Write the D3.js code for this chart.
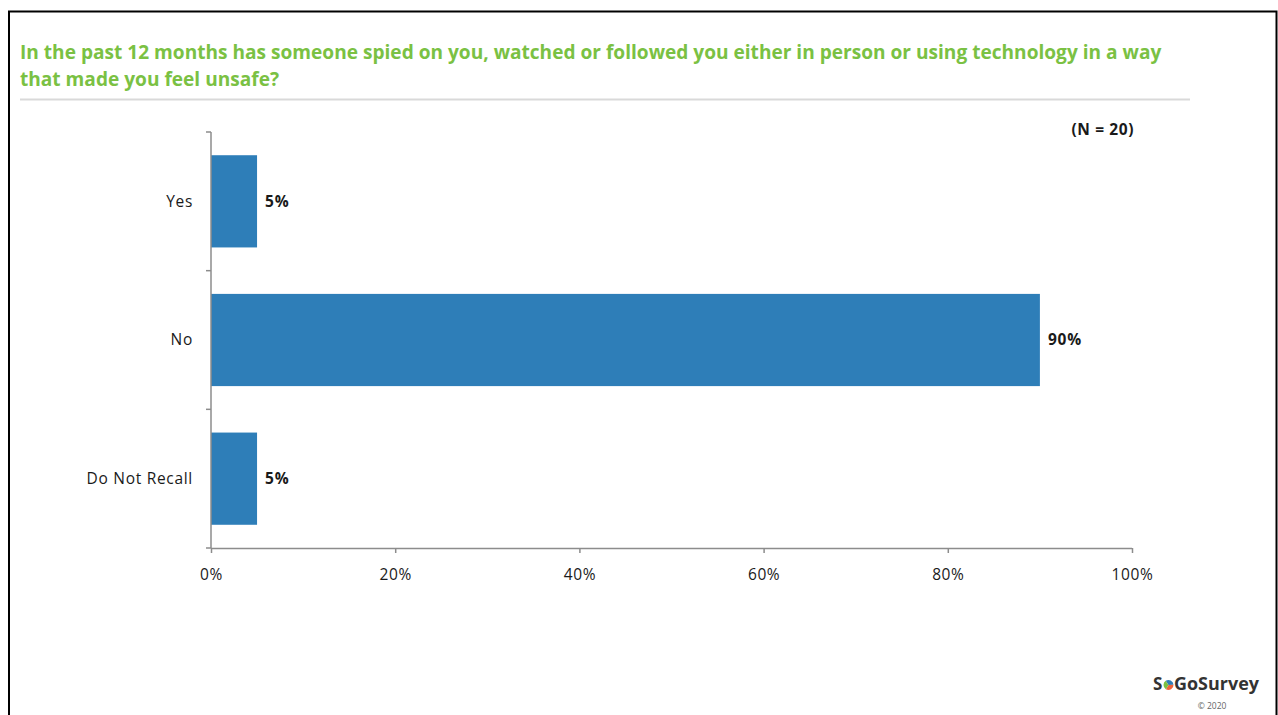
<!DOCTYPE html>
<html>
<head>
<meta charset="utf-8">
<script src="https://cdn.jsdelivr.net/npm/d3@7"></script>
<style>
  html, body { margin: 0; padding: 0; background: #fff; }
  svg { display: block; }
  text { font-family: "Open Sans", Lato, sans-serif; }
</style>
</head>
<body>
<svg id="chart" width="1278" height="715"></svg>
<script>
// Survey responses
const categories = ["Yes", "No", "Do Not Recall"];
const shares = [5, 90, 5];
const xTicks = [0, 20, 40, 60, 80, 100];
const titleLines = [
  "In the past 12 months has someone spied on you, watched or followed you either in person or using technology in a way",
  "that made you feel unsafe?"
];
const sampleNote = "(N = 20)";

const svg = d3.select("#chart");

// slide frame
svg.append("rect")
  .attr("x", 9).attr("y", 11.5)
  .attr("width", 1267.5).attr("height", 720)
  .attr("fill", "none").attr("stroke", "#000").attr("stroke-width", 2);

// title
svg.append("g").selectAll("text")
  .data(titleLines).join("text")
  .attr("x", 20)
  .attr("y", (d, i) => 59 + i * 27)
  .attr("fill", "#7AC143")
  .attr("font-size", 19.1)
  .attr("font-weight", "bold")
  .text(d => d);

svg.append("line")
  .attr("x1", 20).attr("x2", 1190)
  .attr("y1", 99.5).attr("y2", 99.5)
  .attr("stroke", "#d9d9d9").attr("stroke-width", 2);

// plot area
const plotLeft = 211, plotRight = 1132, plotTop = 132, plotBottom = 548;

const x = d3.scaleLinear().domain([0, 100]).range([plotLeft, plotRight]);
const y = d3.scaleBand().domain(categories).range([plotTop, plotBottom]).paddingInner(0.335).paddingOuter(0.1675);

// bars
svg.append("g").selectAll("rect")
  .data(categories).join("rect")
  .attr("x", x(0))
  .attr("y", d => y(d))
  .attr("width", (d, i) => x(shares[i]) - x(0))
  .attr("height", y.bandwidth())
  .attr("fill", "#2E7EB8");

// value labels
svg.append("g").selectAll("text")
  .data(categories).join("text")
  .attr("x", (d, i) => x(shares[i]) + 8)
  .attr("y", d => y(d) + y.bandwidth() / 2)
  .attr("dy", "0.35em")
  .attr("font-size", 15.5)
  .attr("letter-spacing", 0.8)
  .attr("font-weight", "bold")
  .attr("fill", "#1a1a1a")
  .text((d, i) => shares[i] + "%");

// x axis
const xAxis = svg.append("g")
  .attr("transform", `translate(0,${plotBottom})`)
  .call(d3.axisBottom(x).tickValues(xTicks).tickSize(5).tickFormat(d => d + "%"));
xAxis.select(".domain").attr("stroke", "#8c8c8c").attr("stroke-width", 1.5)
  .attr("d", `M${plotLeft},0.5H${plotRight}`);
xAxis.selectAll(".tick line").attr("stroke", "#8c8c8c").attr("stroke-width", 1.5);
xAxis.selectAll(".tick text")
  .attr("y", 27)
  .attr("dy", "0.35em")
  .attr("font-family", "'Open Sans', Lato, sans-serif")
  .attr("font-size", 15.5)
  .attr("letter-spacing", 0.6)
  .attr("fill", "#1a1a1a");

// y axis with boundary ticks between categories
const yAxis = svg.append("g").attr("transform", `translate(${plotLeft},0)`);
yAxis.append("line")
  .attr("x1", 0).attr("x2", 0).attr("y1", plotTop).attr("y2", plotBottom)
  .attr("stroke", "#8c8c8c").attr("stroke-width", 1.5);
const boundaries = d3.range(categories.length + 1).map(i => plotTop + i * (plotBottom - plotTop) / categories.length);
yAxis.selectAll("line.tick").data(boundaries).join("line")
  .attr("class", "tick")
  .attr("x1", -5).attr("x2", 0)
  .attr("y1", d => d).attr("y2", d => d)
  .attr("stroke", "#8c8c8c").attr("stroke-width", 1.5);
yAxis.selectAll("text").data(categories).join("text")
  .attr("x", -18)
  .attr("y", d => y(d) + y.bandwidth() / 2)
  .attr("dy", "0.35em")
  .attr("text-anchor", "end")
  .attr("font-size", 15.5)
  .attr("letter-spacing", 0.7)
  .attr("fill", "#1a1a1a")
  .text(d => d);

// sample size note
svg.append("text")
  .attr("x", 1134).attr("y", 135)
  .attr("text-anchor", "end")
  .attr("font-size", 15.5)
  .attr("letter-spacing", 0.6)
  .attr("font-weight", "bold")
  .attr("fill", "#1a1a1a")
  .text(sampleNote);

// brand mark
const brand = svg.append("g").attr("transform", "translate(1153,690)");
brand.append("text").attr("x", 0).attr("y", 0)
  .attr("font-family", "'Liberation Sans', Arial, sans-serif")
  .attr("font-size", 17).attr("font-weight", "bold").attr("fill", "#333")
  .text("S");
const dot = brand.append("g").attr("transform", "translate(15.5,-5)");
const arc = d3.arc().innerRadius(0).outerRadius(5);
[["#2E7EB8", -0.6, 1.5], ["#F0643C", 1.5, 3.7], ["#7AC143", 3.7, 2 * Math.PI - 0.6]].forEach(([c, a0, a1]) => {
  dot.append("path").attr("d", arc({ startAngle: a0, endAngle: a1 })).attr("fill", c);
});
brand.append("text").attr("x", 21).attr("y", 0)
  .attr("font-family", "'Liberation Sans', Arial, sans-serif")
  .attr("font-size", 17).attr("font-weight", "bold").attr("fill", "#333")
  .attr("textLength", 85).attr("lengthAdjust", "spacingAndGlyphs")
  .text("GoSurvey");
svg.append("text")
  .attr("x", 1212).attr("y", 709)
  .attr("text-anchor", "middle")
  .attr("font-size", 8.5).attr("fill", "#666")
  .text("© 2020");
</script>
</body>
</html>
